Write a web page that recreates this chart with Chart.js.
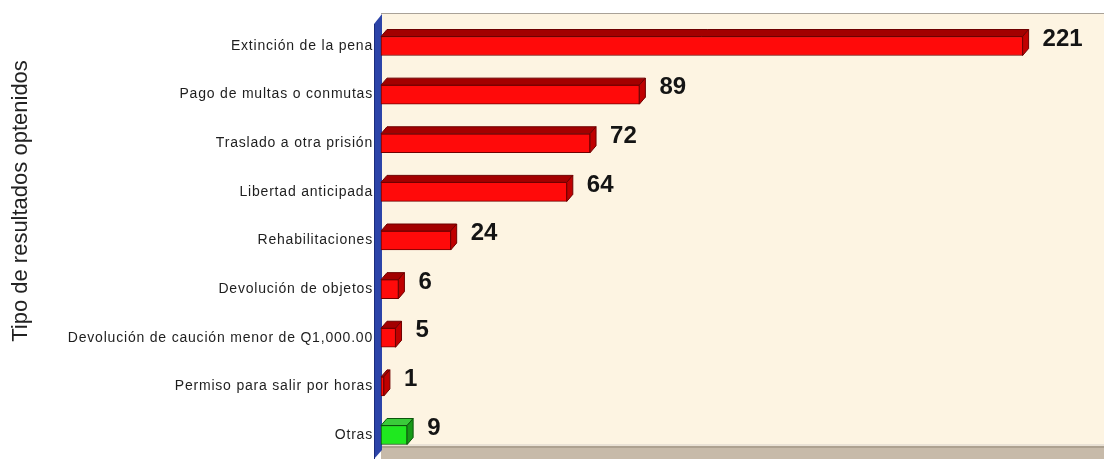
<!DOCTYPE html>
<html>
<head>
<meta charset="utf-8">
<script src="https://cdn.jsdelivr.net/npm/chart.js@4.4.1/dist/chart.umd.min.js"></script>
<style>
  html, body { margin: 0; padding: 0; background: #fff; }
  #wrap { width: 1104px; height: 459px; }
</style>
</head>
<body>
<div id="wrap"><canvas id="c"></canvas></div>
<script>
  const categories = [
    "Extinción de la pena",
    "Pago de multas o conmutas",
    "Traslado a otra prisión",
    "Libertad anticipada",
    "Rehabilitaciones",
    "Devolución de objetos",
    "Devolución de caución menor de Q1,000.00",
    "Permiso para salir por horas",
    "Otras"
  ];
  const values = [221, 89, 72, 64, 24, 6, 5, 1, 9];
  const axisMax = 248;
  const axisTitle = "Tipo de resultados optenidos";

  const DEPTH_X = 6, DEPTH_Y = 7;
  const red = { front: "#ff0a0a", top: "#a30000", side: "#c00000", edge: "#6e0000" };
  const green = { front: "#1fe81f", top: "#3acb3a", side: "#179a17", edge: "#0b560b" };
  const palette = categories.map(c => c === "Otras" ? green : red);

  // background, floor and the blue side wall
  const backdrop = {
    id: "backdrop",
    beforeDraw(chart) {
      const ctx = chart.ctx, a = chart.chartArea;
      ctx.save();
      ctx.letterSpacing = "0px";
      ctx.fillStyle = "#ffffff";
      ctx.fillRect(0, 0, chart.width, chart.height);
      ctx.fillStyle = "#fdf4e2";
      ctx.fillRect(a.left, 14, chart.width - a.left, 432);
      ctx.fillStyle = "#a9a298";
      ctx.fillRect(a.left, 13, chart.width - a.left, 1);
      ctx.fillStyle = "#e9e1d5";
      ctx.fillRect(a.left, 444, chart.width - a.left, 2);
      ctx.fillStyle = "#ada190";
      ctx.fillRect(a.left, 446, chart.width - a.left, 2);
      ctx.fillStyle = "#c7baa9";
      ctx.fillRect(a.left, 448, chart.width - a.left, 11);
      // wall
      ctx.fillStyle = "#2c44a8";
      ctx.beginPath();
      ctx.moveTo(a.left - 7, 24);
      ctx.lineTo(a.left + 1, 14);
      ctx.lineTo(a.left + 1, 450);
      ctx.lineTo(a.left - 7, 459);
      ctx.closePath();
      ctx.fill();
      ctx.strokeStyle = "#1b2c7c";
      ctx.lineWidth = 1;
      ctx.beginPath();
      ctx.moveTo(a.left - 6.5, 24);
      ctx.lineTo(a.left - 6.5, 459);
      ctx.stroke();
      ctx.restore();
      ctx.letterSpacing = "0.8px";
    },
    afterDraw(chart) {
      const ctx = chart.ctx;
      ctx.save();
      ctx.letterSpacing = "0px";
      ctx.translate(27, 201);
      ctx.rotate(-Math.PI / 2);
      ctx.font = '22px Arial, "Liberation Sans", sans-serif';
      ctx.fillStyle = "#222";
      ctx.textAlign = "center";
      ctx.textBaseline = "alphabetic";
      ctx.fillText(axisTitle, 0, 0);
      ctx.restore();
    }
  };

  // top and right faces of the bars, plus value labels
  const bars3d = {
    id: "bars3d",
    afterDatasetsDraw(chart) {
      const ctx = chart.ctx;
      const meta = chart.getDatasetMeta(0);
      ctx.save();
      ctx.letterSpacing = "0px";
      meta.data.forEach((bar, i) => {
        const p = palette[i];
        const top = bar.y - bar.height / 2, bottom = bar.y + bar.height / 2;
        const x0 = bar.base, x1 = bar.x;
        ctx.lineWidth = 1;
        ctx.strokeStyle = p.edge;
        ctx.fillStyle = p.top;
        ctx.beginPath();
        ctx.moveTo(x0, top);
        ctx.lineTo(x1, top);
        ctx.lineTo(x1 + DEPTH_X, top - DEPTH_Y);
        ctx.lineTo(x0 + DEPTH_X, top - DEPTH_Y);
        ctx.closePath();
        ctx.fill();
        ctx.stroke();
        ctx.fillStyle = p.side;
        ctx.beginPath();
        ctx.moveTo(x1, top);
        ctx.lineTo(x1 + DEPTH_X, top - DEPTH_Y);
        ctx.lineTo(x1 + DEPTH_X, bottom - DEPTH_Y);
        ctx.lineTo(x1, bottom);
        ctx.closePath();
        ctx.fill();
        ctx.stroke();

        ctx.fillStyle = "#141414";
        ctx.font = 'bold 24px Arial, "Liberation Sans", sans-serif';
        ctx.textAlign = "left";
        ctx.textBaseline = "middle";
        ctx.fillText(String(values[i]), x1 + DEPTH_X + 14, bar.y - 7);
      });
      ctx.restore();
    }
  };

  new Chart(document.getElementById("c"), {
    type: "bar",
    data: {
      labels: categories,
      datasets: [{
        data: values,
        backgroundColor: palette.map(p => p.front),
        borderColor: palette.map(p => p.edge),
        borderWidth: 1,
        borderSkipped: false,
        barThickness: 19,
        clip: false
      }]
    },
    options: {
      indexAxis: "y",
      responsive: true,
      maintainAspectRatio: false,
      animation: false,
      devicePixelRatio: 1,
      layout: { padding: { top: 46, bottom: 24, left: 0, right: 3 } },
      plugins: { legend: { display: false }, tooltip: { enabled: false } },
      scales: {
        x: { display: false, min: 0, max: axisMax },
        y: {
          offset: false,
          grid: { display: false, drawTicks: false },
          border: { display: false },
          ticks: {
            padding: 8,
            color: "#1e1e1e",
            font: { family: 'Arial, "Liberation Sans", sans-serif', size: 14 }
          },
          afterFit(scale) { scale.width = 381; }
        }
      }
    },
    plugins: [backdrop, bars3d]
  });
</script>
</body>
</html>
